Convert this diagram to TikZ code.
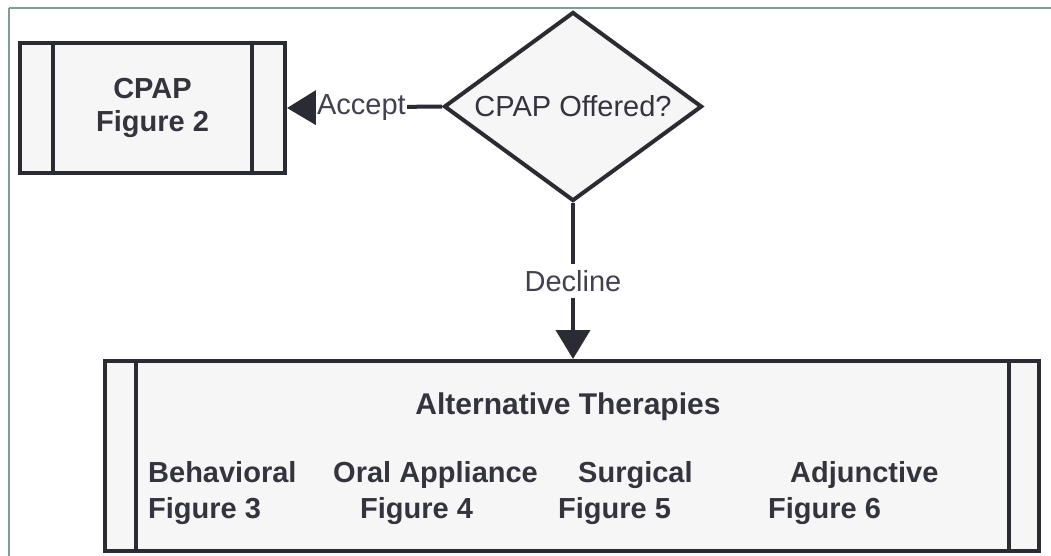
\documentclass[tikz,border=0pt]{standalone}
\usepackage{fontspec}
\setmainfont{Liberation Sans}
\usetikzlibrary{arrows.meta,shapes.geometric}
\definecolor{ink}{HTML}{2B2B33}
\definecolor{boxfill}{HTML}{F6F6F6}
\definecolor{framecol}{HTML}{7F9E9A}
\definecolor{txt}{HTML}{34343F}
\definecolor{lbltxt}{HTML}{45404F}
\begin{document}
\begin{tikzpicture}[x=1pt,y=-1pt,
  font=\fontsize{29}{33}\selectfont,
  procbox/.style={draw=ink,line width=4pt,fill=boxfill,rectangle,inner sep=0pt,text=txt,font=\fontsize{29}{33}\selectfont\bfseries,align=center},
  decision/.style={draw=ink,line width=4pt,fill=boxfill,diamond,inner sep=0pt,aspect=1.35,text=txt},
  conn/.style={draw=ink,line width=4pt,-{Triangle[length=29pt,width=34pt]}},
  lbl/.style={fill=white,inner xsep=1pt,inner ysep=6pt,text=lbltxt},
  boxtxt/.style={anchor=base west,inner sep=0pt,text=txt,font=\fontsize{29}{33}\selectfont\bfseries}]
\useasboundingbox (0,0) rectangle (1051,555);
\fill[white] (0,0) rectangle (1051,555);
\begin{scope}
\clip (0,0) rectangle (1051,555);
\draw[framecol,line width=1.5pt] (9,8) -- (1070,8);
\draw[framecol,line width=1.5pt] (9,8) -- (9,570);

% CPAP box
\node[procbox,minimum width=265pt,minimum height=130pt] (cpap) at (152.5,108) {CPAP\\Figure 2};
\draw[ink,line width=4pt] ([xshift=35pt]cpap.north west) -- ([xshift=35pt]cpap.south west);
\draw[ink,line width=4pt] ([xshift=-35pt]cpap.north east) -- ([xshift=-35pt]cpap.south east);

% decision
\node[decision,minimum width=258pt,minimum height=189pt] (dia) at (573,106.5) {CPAP Offered?};

% alternative therapies box
\node[procbox,minimum width=934pt,minimum height=190pt] (alt) at (572,456) {};
\draw[ink,line width=4pt] ([xshift=33pt]alt.north west) -- ([xshift=33pt]alt.south west);
\draw[ink,line width=4pt] ([xshift=-32pt]alt.north east) -- ([xshift=-32pt]alt.south east);

\node[boxtxt,anchor=base,font=\fontsize{30}{33}\selectfont\bfseries] (altt) at (568,414) {Alternative Therapies};
\node[boxtxt] (beh) at (148,482) {Behavioral};
\node[boxtxt] (behf) at (148,518) {Figure 3};
\node[boxtxt] (oral) at (333,482) {Oral Appliance};
\node[boxtxt] (oralf) at (360,518) {Figure 4};
\node[boxtxt] (surg) at (578,482) {Surgical};
\node[boxtxt] (surgf) at (558,518) {Figure 5};
\node[boxtxt] (adj) at (790,482) {Adjunctive};
\node[boxtxt] (adjf) at (768,518) {Figure 6};

% connectors
\draw[conn] (dia.west) -- node[lbl,pos=0.52] {Accept} (cpap.east);
\draw[conn] (dia.south) -- node[lbl,pos=0.5] {Decline} (dia.south |- alt.north);
\end{scope}
\end{tikzpicture}
\end{document}
